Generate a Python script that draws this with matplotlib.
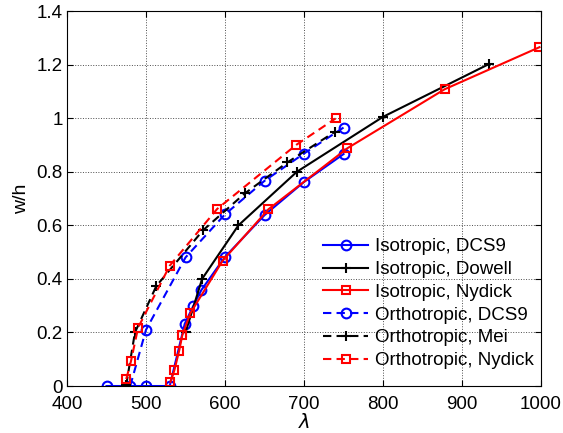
import matplotlib
matplotlib.use('Agg')
from matplotlib import pyplot as plt

plt.rcParams['font.family'] = ['Liberation Sans', 'DejaVu Sans']

# isotropic
iso_dcs9_x = [450, 500, 530, 549, 560, 570, 600, 650, 700, 750]
iso_dcs9_y = [0, 0, 0, 0.232, 0.30, 0.358, 0.482, 0.638, 0.762, 0.866]
iso_dowell_x = [550, 571, 617, 691, 800, 934]
iso_dowell_y = [0.20, 0.40, 0.60, 0.80, 1.005, 1.202]
iso_nydick_x = [531, 536, 542, 546, 556, 597, 655, 755, 878, 998]
iso_nydick_y = [0.015, 0.06, 0.132, 0.19, 0.271, 0.468, 0.66, 0.888, 1.108, 1.265]

# orthotropic
ort_dcs9_x = [480, 500, 550, 600, 650, 700, 750]
ort_dcs9_y = [0, 0.21, 0.48, 0.641, 0.766, 0.868, 0.965]
ort_mei_x = [475, 486, 513, 572, 625, 679, 739]
ort_mei_y = [0.005, 0.20, 0.373, 0.581, 0.719, 0.835, 0.949]
ort_nydick_x = [475, 481, 490, 530, 590, 690, 740]
ort_nydick_y = [0.026, 0.093, 0.218, 0.449, 0.661, 0.90, 0.999]

fig = plt.figure(figsize=(5.63, 4.33), dpi=100)
ax = fig.add_axes([0.119, 0.1085, 0.842, 0.866])

dash = (4, 2.5)
ax.plot(iso_dcs9_x, iso_dcs9_y, '-o', color='b', lw=1.5, ms=7, mfc='none', mew=1.5, label='Isotropic, DCS9')
ax.plot(iso_dowell_x, iso_dowell_y, '-+', color='k', lw=1.5, ms=7, mew=1.5, label='Isotropic, Dowell')
ax.plot(iso_nydick_x, iso_nydick_y, '-s', color='r', lw=1.5, ms=6, mfc='none', mew=1.5, label='Isotropic, Nydick')
ax.plot(ort_dcs9_x, ort_dcs9_y, '--o', color='b', lw=1.5, ms=7, mfc='none', mew=1.5, dashes=dash, label='Orthotropic, DCS9')
ax.plot(ort_mei_x, ort_mei_y, '--+', color='k', lw=1.5, ms=7, mew=1.5, dashes=dash, label='Orthotropic, Mei')
ax.plot(ort_nydick_x, ort_nydick_y, '--s', color='r', lw=1.5, ms=6, mfc='none', mew=1.5, dashes=dash, label='Orthotropic, Nydick')

ax.set_xlim(400, 1000)
ax.set_ylim(0, 1.4)
ax.set_xticks([400, 500, 600, 700, 800, 900, 1000])
ax.set_yticks([0, 0.2, 0.4, 0.6, 0.8, 1, 1.2, 1.4])
ax.set_yticklabels(['0', '0.2', '0.4', '0.6', '0.8', '1', '1.2', '1.4'])
ax.grid(True, linestyle=':', color='0.3', lw=0.7)
ax.tick_params(direction='in', top=True, right=True, labelsize=13.5, length=4)
ax.tick_params(axis='x', pad=7)
ax.tick_params(axis='y', pad=3)
ax.set_xlabel('$\\lambda$', fontsize=14, labelpad=0.5)
ax.set_ylabel('w/h', fontsize=14, labelpad=5)

ax.legend(loc='lower right', frameon=False, fontsize=13.5, handlelength=2.4,
          labelspacing=0.3, handletextpad=0.35, borderaxespad=0.0,
          bbox_to_anchor=(1.0, 0.025))

plt.savefig('out.png', dpi=100)
